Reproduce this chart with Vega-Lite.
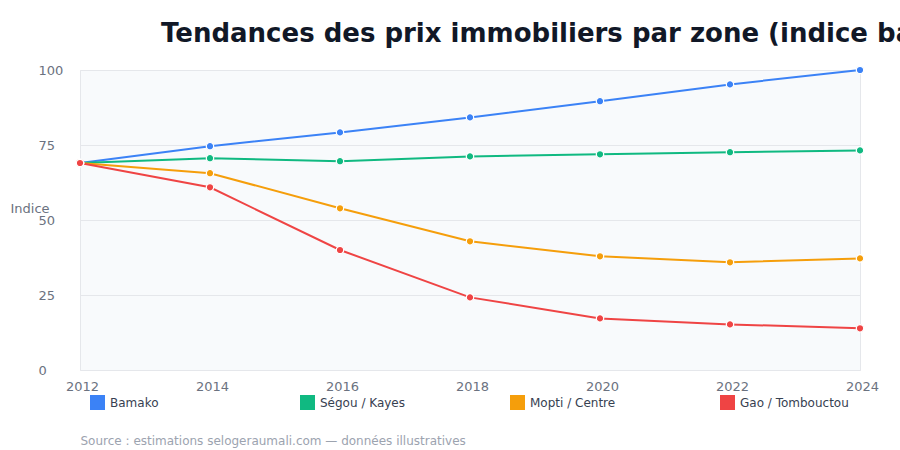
{
  "$schema": "https://vega.github.io/schema/vega-lite/v6.json",
  "autosize": {"type": "none"},
  "padding": {"left": 80, "top": 70, "right": 40, "bottom": 80},
  "width": 780,
  "height": 300,
  "background": "white",
  "title": {
    "text": "Tendances des prix immobiliers par zone (indice base 100 en 2012)",
    "anchor": "start",
    "frame": "group",
    "dx": 81,
    "offset": 17,
    "font": "DejaVu Sans",
    "fontSize": 26,
    "fontWeight": "bold",
    "color": "#111827"
  },
  "config": {
    "font": "DejaVu Sans",
    "view": {"fill": "#f8fafc", "stroke": "#e5e7eb", "strokeWidth": 1}
  },
  "data": {
    "values": [
      {"annee": 2012, "zone": "Bamako", "indice": 69},
      {"annee": 2014, "zone": "Bamako", "indice": 74.6},
      {"annee": 2016, "zone": "Bamako", "indice": 79.2},
      {"annee": 2018, "zone": "Bamako", "indice": 84.2},
      {"annee": 2020, "zone": "Bamako", "indice": 89.6},
      {"annee": 2022, "zone": "Bamako", "indice": 95.2},
      {"annee": 2024, "zone": "Bamako", "indice": 100},
      {"annee": 2012, "zone": "Ségou / Kayes", "indice": 69},
      {"annee": 2014, "zone": "Ségou / Kayes", "indice": 70.6},
      {"annee": 2016, "zone": "Ségou / Kayes", "indice": 69.6},
      {"annee": 2018, "zone": "Ségou / Kayes", "indice": 71.2},
      {"annee": 2020, "zone": "Ségou / Kayes", "indice": 71.9},
      {"annee": 2022, "zone": "Ségou / Kayes", "indice": 72.6},
      {"annee": 2024, "zone": "Ségou / Kayes", "indice": 73.2},
      {"annee": 2012, "zone": "Mopti / Centre", "indice": 69},
      {"annee": 2014, "zone": "Mopti / Centre", "indice": 65.6},
      {"annee": 2016, "zone": "Mopti / Centre", "indice": 53.9},
      {"annee": 2018, "zone": "Mopti / Centre", "indice": 42.9},
      {"annee": 2020, "zone": "Mopti / Centre", "indice": 37.9},
      {"annee": 2022, "zone": "Mopti / Centre", "indice": 35.9},
      {"annee": 2024, "zone": "Mopti / Centre", "indice": 37.2},
      {"annee": 2012, "zone": "Gao / Tombouctou", "indice": 69},
      {"annee": 2014, "zone": "Gao / Tombouctou", "indice": 60.9},
      {"annee": 2016, "zone": "Gao / Tombouctou", "indice": 40},
      {"annee": 2018, "zone": "Gao / Tombouctou", "indice": 24.2},
      {"annee": 2020, "zone": "Gao / Tombouctou", "indice": 17.2},
      {"annee": 2022, "zone": "Gao / Tombouctou", "indice": 15.2},
      {"annee": 2024, "zone": "Gao / Tombouctou", "indice": 13.9}
    ]
  },
  "encoding": {
    "x": {
      "field": "annee",
      "type": "quantitative",
      "scale": {"domain": [2012, 2024], "nice": false, "zero": false},
      "axis": {
        "values": [2012, 2014, 2016, 2018, 2020, 2022, 2024],
        "format": "d",
        "grid": false,
        "domain": false,
        "ticks": false,
        "labelFlush": false,
        "labelOffset": 2,
        "labelPadding": 10,
        "labelFontSize": 13,
        "labelColor": "#6b7280",
        "title": "Source : estimations selogeraumali.com — données illustratives",
        "titleAnchor": "start",
        "titleAlign": "left",
        "titleX": 0,
        "titleY": 70,
        "titleBaseline": "middle",
        "titleFontSize": 12,
        "titleFontWeight": "normal",
        "titleColor": "#9ca3af"
      }
    },
    "y": {
      "field": "indice",
      "type": "quantitative",
      "scale": {"domain": [0, 100], "nice": false},
      "axis": {
        "values": [0, 25, 50, 75, 100],
        "grid": true,
        "gridColor": "#e5e7eb",
        "domain": false,
        "ticks": false,
        "labelAlign": "left",
        "labelPadding": 42,
        "labelFontSize": 13,
        "labelColor": "#6b7280",
        "title": "Indice",
        "titleAngle": 0,
        "titleX": -70,
        "titleY": 138,
        "titleAlign": "left",
        "titleBaseline": "middle",
        "titleFontSize": 13,
        "titleFontWeight": "normal",
        "titleColor": "#6b7280"
      }
    },
    "color": {
      "field": "zone",
      "type": "nominal",
      "sort": ["Bamako", "Ségou / Kayes", "Mopti / Centre", "Gao / Tombouctou"],
      "scale": {
        "domain": ["Bamako", "Ségou / Kayes", "Mopti / Centre", "Gao / Tombouctou"],
        "range": ["#3b82f6", "#10b981", "#f59e0b", "#ef4444"]
      },
      "legend": {
        "orient": "none",
        "legendX": 10,
        "legendY": 325,
        "direction": "horizontal",
        "columns": 4,
        "gridAlign": "all",
        "columnPadding": 81,
        "title": null,
        "symbolType": "square",
        "symbolSize": 225,
        "symbolStrokeWidth": 0,
        "symbolOpacity": 1,
        "labelFontSize": 12,
        "labelColor": "#374151",
        "labelOffset": 5
      }
    }
  },
  "layer": [
    {"mark": {"type": "line", "strokeWidth": 2}},
    {"mark": {"type": "point", "filled": true, "size": 55, "opacity": 1, "stroke": "white", "strokeWidth": 1.2}}
  ]
}
